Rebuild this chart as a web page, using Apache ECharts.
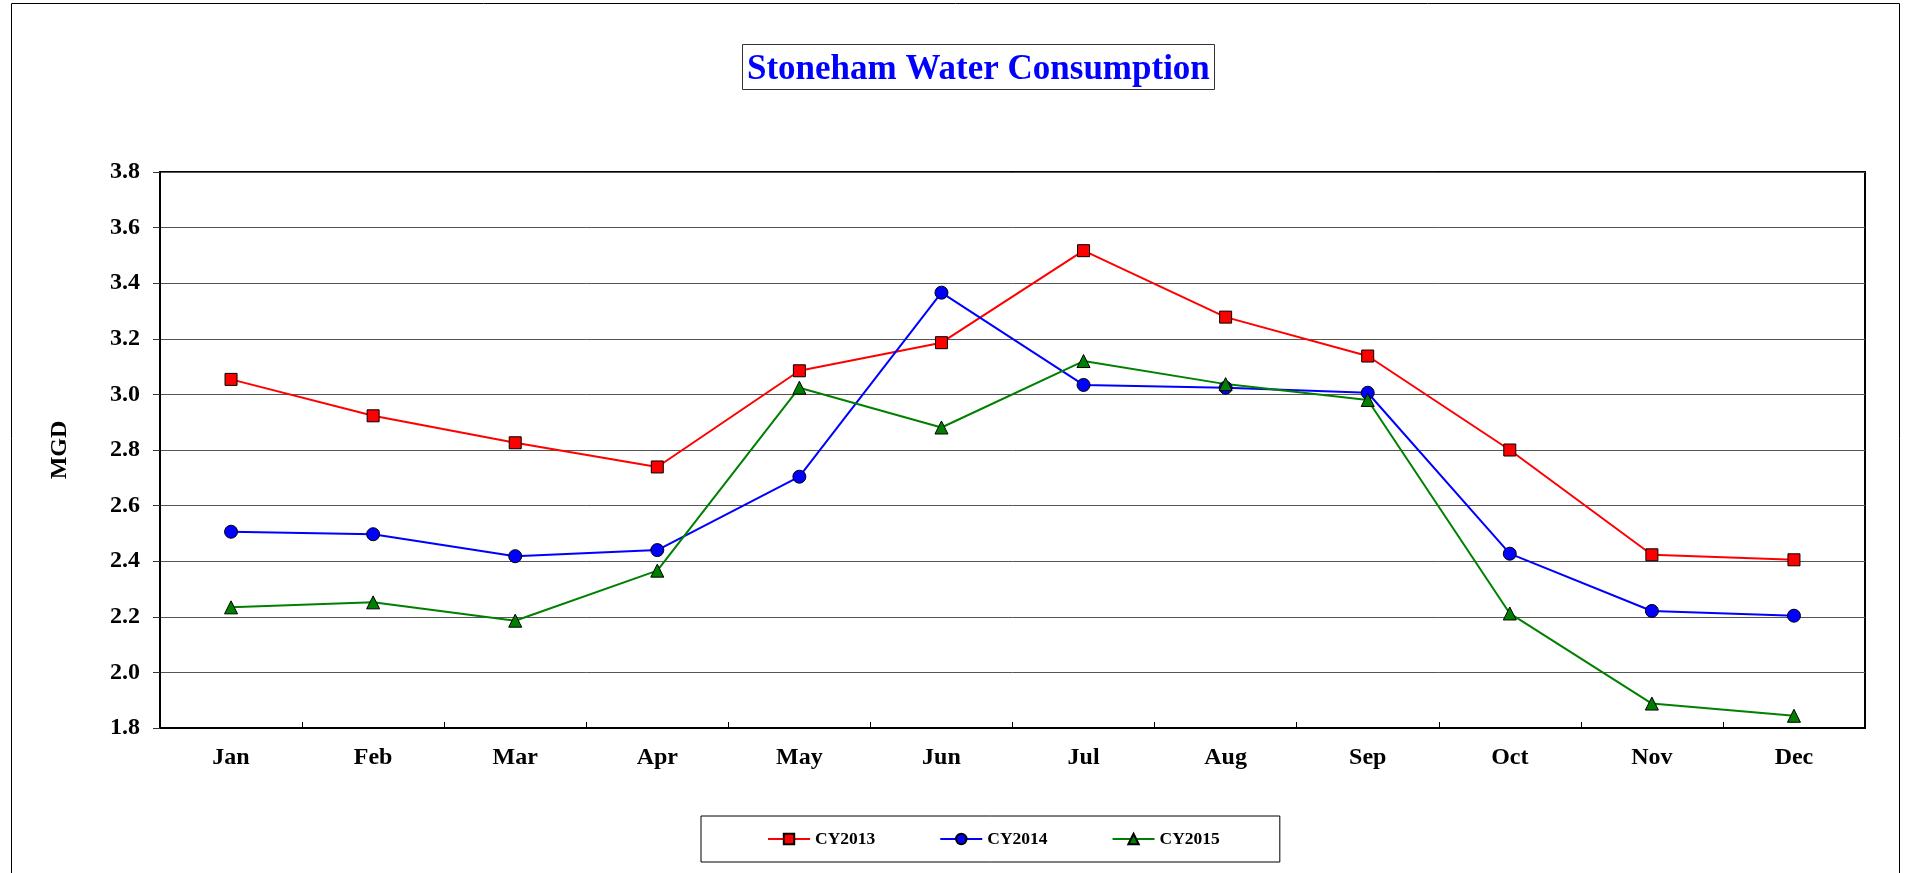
<!DOCTYPE html>
<html>
<head>
<meta charset="utf-8">
<title>Stoneham Water Consumption</title>
<script src="https://cdn.jsdelivr.net/npm/echarts@6/dist/echarts.min.js"></script>
<style>
  html, body { margin: 0; padding: 0; background: #fff; }
  #chart { width: 1913px; height: 873px; }
</style>
</head>
<body>
<div id="chart"></div>
<script>
// Monthly average consumption, million gallons per day
const months = ['Jan', 'Feb', 'Mar', 'Apr', 'May', 'Jun', 'Jul', 'Aug', 'Sep', 'Oct', 'Nov', 'Dec'];
const cy2013 = [3.054, 2.923, 2.826, 2.739, 3.085, 3.186, 3.517, 3.278, 3.138, 2.800, 2.423, 2.405];
const cy2014 = [2.506, 2.497, 2.418, 2.440, 2.704, 3.366, 3.034, 3.024, 3.006, 2.427, 2.221, 2.204];
const cy2015 = [2.234, 2.252, 2.186, 2.366, 3.024, 2.881, 3.120, 3.037, 2.980, 2.212, 1.888, 1.844];

const serif = 'Liberation Serif';

const chart = echarts.init(document.getElementById('chart'), null, { renderer: 'canvas' });

function lineSeries(name, data, color, symbol, size) {
  return {
    name: name,
    type: 'line',
    data: data,
    symbol: symbol,
    symbolSize: size,
    showAllSymbol: true,
    lineStyle: { color: color, width: 2 },
    itemStyle: { color: color, borderColor: '#000', borderWidth: 1 },
    emphasis: { disabled: true }
  };
}

chart.setOption({
  animation: false,
  backgroundColor: '#fff',
  graphic: [{
    type: 'rect',
    shape: { x: 11.5, y: 3.5, width: 1888, height: 900 },
    style: { fill: 'none', stroke: '#000', lineWidth: 1 },
    silent: true,
    z: -10
  }],
  title: {
    text: 'Stoneham Water Consumption',
    left: 742,
    top: 44,
    padding: [7, 5, 2, 5],
    borderColor: '#333',
    borderWidth: 1,
    textStyle: {
      fontFamily: serif,
      fontWeight: 'bold',
      fontSize: 35,
      lineHeight: 37,
      color: '#0000FF'
    }
  },
  legend: {
    left: 701,
    top: 816,
    padding: [14, 60, 14, 66],
    borderColor: '#000',
    borderWidth: 1,
    itemGap: 64,
    itemWidth: 42,
    itemHeight: 13,
    textStyle: {
      fontFamily: serif,
      fontWeight: 'bold',
      fontSize: 17.5,
      color: '#000'
    },
    data: ['CY2013', 'CY2014', 'CY2015']
  },
  grid: {
    left: 160,
    right: 48,
    top: 172,
    bottom: 145,
    show: true,
    borderColor: '#000',
    borderWidth: 2,
    containLabel: false
  },
  xAxis: {
    type: 'category',
    data: months,
    boundaryGap: true,
    axisLine: { lineStyle: { color: '#000', width: 2 } },
    axisTick: { show: true, inside: true, length: 6, interval: 0, lineStyle: { color: '#000', width: 1 } },
    axisLabel: {
      interval: 0,
      margin: 18,
      fontFamily: serif,
      fontWeight: 'bold',
      fontSize: 24,
      color: '#000'
    },
    splitLine: { show: false }
  },
  yAxis: {
    type: 'value',
    min: 1.8,
    max: 3.8,
    interval: 0.2,
    name: 'MGD',
    nameLocation: 'middle',
    nameRotate: 90,
    nameGap: 88,
    nameTextStyle: {
      fontFamily: serif,
      fontWeight: 'bold',
      fontSize: 24,
      color: '#000'
    },
    axisLine: { show: true, lineStyle: { color: '#000', width: 2 } },
    axisTick: { show: true, inside: false, length: 7, lineStyle: { color: '#333', width: 1 } },
    axisLabel: {
      margin: 20,
      fontFamily: serif,
      fontWeight: 'bold',
      fontSize: 24,
      color: '#000',
      formatter: function (v) { return v.toFixed(1); }
    },
    splitLine: { show: true, lineStyle: { color: '#555', width: 1 } }
  },
  series: [
    lineSeries('CY2013', cy2013, '#FF0000', 'rect', 12),
    lineSeries('CY2014', cy2014, '#0000FF', 'circle', 13),
    lineSeries('CY2015', cy2015, '#008000', 'triangle', 13)
  ]
});
</script>
</body>
</html>
